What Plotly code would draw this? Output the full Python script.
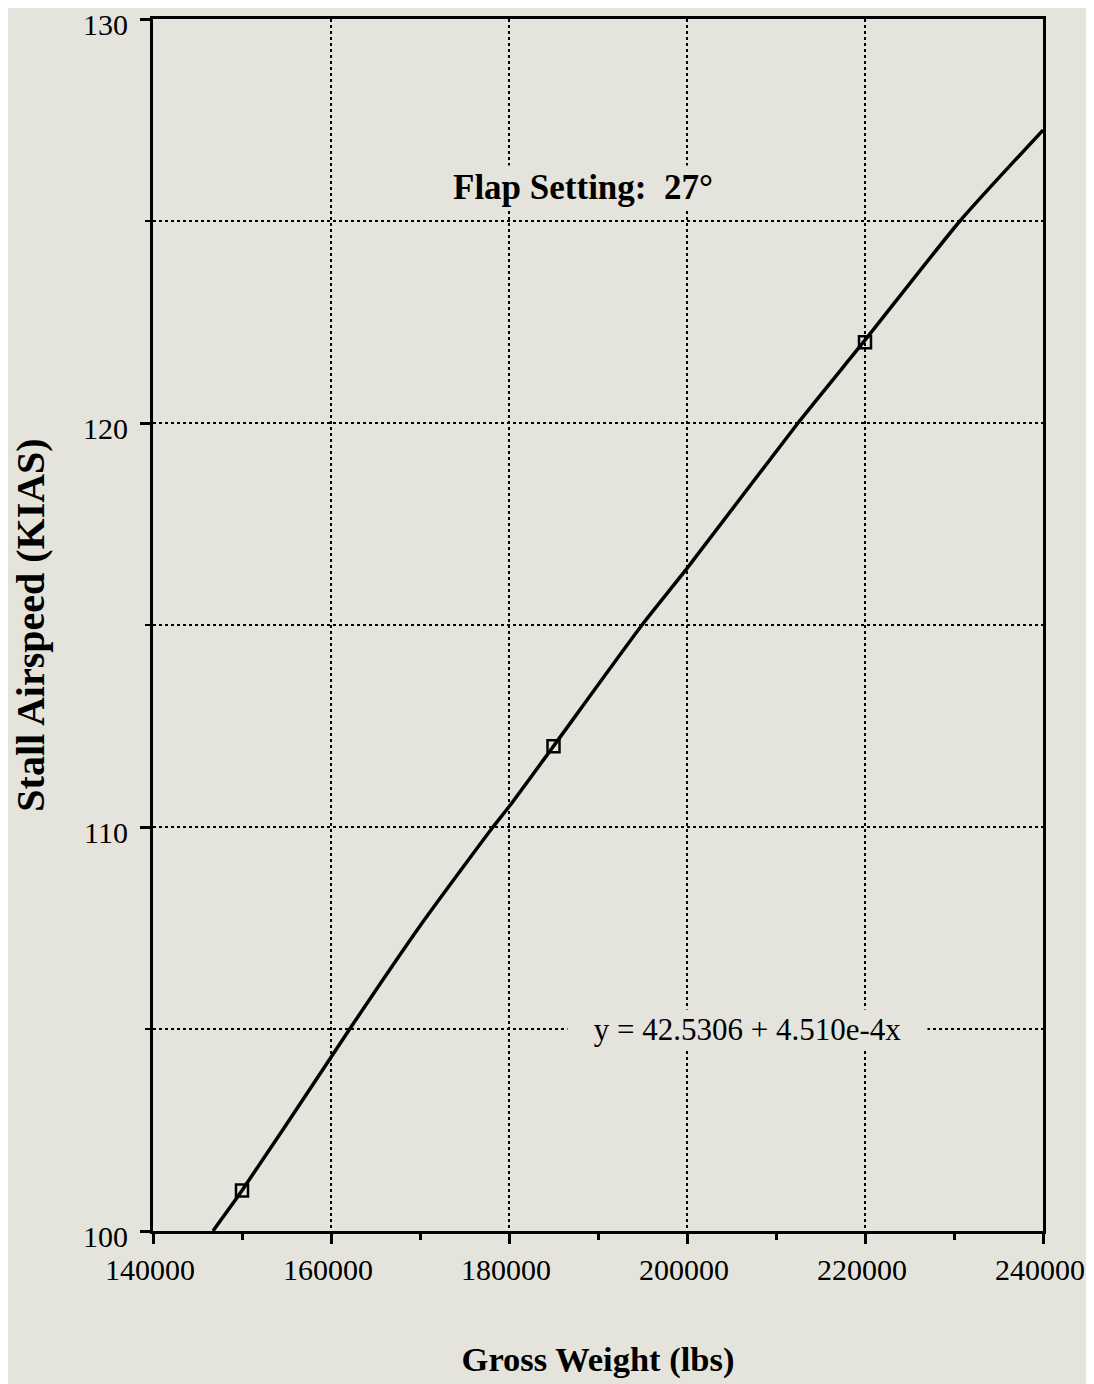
import plotly.graph_objects as go

# Measured data points (markers)
pt_weight = [150000, 185000, 220000]
pt_speed = [101.0, 112.0, 122.0]

# Fitted curve
curve_weight = [146740, 150000, 160000, 162100, 170000, 178200, 180000, 185000,
                194940, 200000, 212470, 220000, 230670, 240000]
curve_speed = [100.0, 101.0, 104.3, 105.0, 107.55, 110.0, 110.5, 112.0,
               115.0, 116.4, 120.0, 122.05, 125.0, 127.25]

x_ticks = [140000, 160000, 180000, 200000, 220000, 240000]
y_ticks = [100, 110, 120, 130]

BG = "#e4e4dc"
FONT = "Liberation Serif, Times New Roman, serif"

fig = go.Figure()
fig.add_trace(go.Scatter(x=curve_weight, y=curve_speed, mode="lines",
                         line=dict(color="black", width=3.5, shape="spline",
                                   smoothing=0.6),
                         showlegend=False, hoverinfo="skip"))
fig.add_trace(go.Scatter(x=pt_weight, y=pt_speed, mode="markers",
                         marker=dict(symbol="square-open", size=12, color="black",
                                     line=dict(width=2.5, color="black")),
                         showlegend=False))

fig.add_annotation(x=188300, y=125.84, text="<b>Flap Setting:  27°</b>",
                   showarrow=False, font=dict(family=FONT, size=35, color="black"),
                   bgcolor=BG, borderpad=2)
fig.add_annotation(x=206750, y=105, text="y = 42.5306 + 4.510e-4x",
                   showarrow=False, font=dict(family=FONT, size=31, color="black"),
                   bgcolor=BG, borderpad=2, width=355)

fig.update_layout(
    width=1086, height=1376,
    margin=dict(l=145, r=51, t=11, b=153),
    paper_bgcolor=BG, plot_bgcolor=BG,
    font=dict(family=FONT, size=30, color="black"),
    xaxis=dict(range=[140000, 240000], tickvals=x_ticks,
               ticktext=[str(v) for v in x_ticks], automargin=False,
               showline=True, linecolor="black", linewidth=3, mirror=True,
               ticks="outside", ticklen=10, tickwidth=3, tickcolor="black",
               showgrid=True, gridcolor="black", griddash="dot", gridwidth=2,
               zeroline=False, ticklabeloverflow="allow", ticklabelshift=-3,
               minor=dict(dtick=10000, tick0=140000, ticks="outside", ticklen=6,
                          tickwidth=3, tickcolor="black", showgrid=False),
               title=dict(text="<b>Gross Weight (lbs)</b>",
                          font=dict(family=FONT, size=34.5), standoff=62),
               tickfont=dict(family=FONT, size=30)),
    yaxis=dict(range=[100, 130], tickvals=y_ticks, automargin=False,
               showline=True, linecolor="black", linewidth=3, mirror=True,
               ticks="outside", ticklen=10, tickwidth=3, tickcolor="black",
               showgrid=True, gridcolor="black", griddash="dot", gridwidth=2,
               zeroline=False, ticklabeloverflow="allow", ticklabelstandoff=6,
               ticklabelshift=5,
               minor=dict(dtick=5, tick0=100, ticks="outside", ticklen=5,
                          tickwidth=2, tickcolor="black", showgrid=True,
                          gridcolor="black", griddash="dot", gridwidth=2),
               title=dict(text="<b>Stall Airspeed (KIAS)</b>",
                          font=dict(family=FONT, size=40), standoff=28),
               tickfont=dict(family=FONT, size=30)),
)
fig.write_html("out.html")
